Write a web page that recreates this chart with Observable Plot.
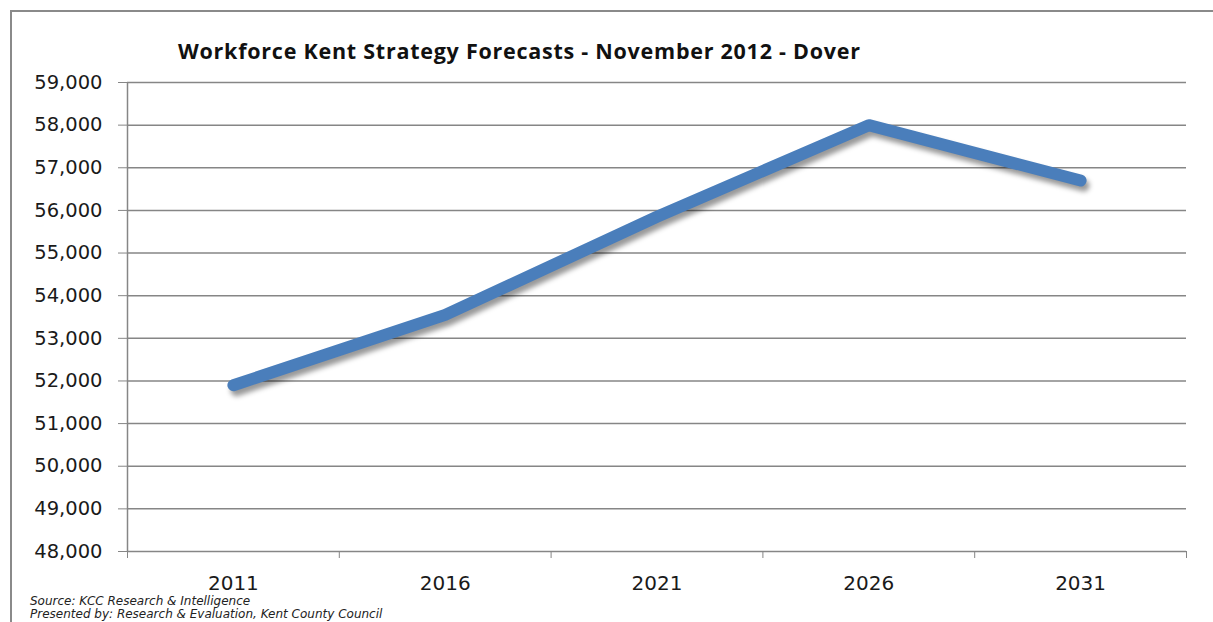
<!DOCTYPE html>
<html>
<head>
<meta charset="utf-8">
<script src="https://cdn.jsdelivr.net/npm/d3@7"></script>
<script src="https://cdn.jsdelivr.net/npm/@observablehq/plot@0.6"></script>
<style>
  html, body { margin: 0; padding: 0; background: #fff; overflow: hidden; }
  #wrap { position: relative; width: 1213px; height: 622px; overflow: hidden; }
  #frame { position: absolute; left: 10px; top: 10px; width: 1300px; height: 700px;
           border-left: 2px solid #8a8a8a; border-top: 2px solid #8a8a8a; box-sizing: border-box; }
  #title { position: absolute; left: 178px; top: 38px; font-family: "Open Sans", Lato, sans-serif;
           font-weight: bold; font-size: 21.5px; line-height: 26px; letter-spacing: 0.75px; color: #111; white-space: nowrap; }
  #chart { position: absolute; left: 0; top: 0; }
  .cap { position: absolute; left: 30px; font-family: "DejaVu Sans", sans-serif; font-style: italic;
         font-size: 12px; line-height: 13px; color: #222; white-space: nowrap; }
</style>
</head>
<body>
<div id="wrap">
  <div id="frame"></div>
  <div id="chart"></div>
  <div id="title">Workforce Kent Strategy Forecasts - November 2012 - Dover</div>
  <div class="cap" style="top:595px">Source: KCC Research &amp; Intelligence</div>
  <div class="cap" style="top:608px">Presented by: Research &amp; Evaluation, Kent County Council</div>
</div>
<script>
const years = ["2011", "2016", "2021", "2026", "2031"];
const workforce = [51900, 53550, 55850, 58000, 56700];
const yTicks = [48000, 49000, 50000, 51000, 52000, 53000, 54000, 55000, 56000, 57000, 58000, 59000];

const data = years.map((year, i) => ({ i, year, value: workforce[i] }));
const centers = years.map((_, i) => i);
const boundaries = [-0.5, ...years.map((_, i) => i + 0.5)];
const gridColor = "#868686";

const chart = Plot.plot({
  width: 1213,
  height: 622,
  marginLeft: 127,
  marginRight: 27,
  marginTop: 82,
  marginBottom: 71,
  x: { type: "linear", domain: [-0.5, years.length - 0.5] },
  y: { domain: [48000, 59000] },
  style: { fontFamily: "DejaVu Sans, sans-serif", fontSize: "19.5px", color: "#1a1a1a", background: "transparent" },
  marks: [
    Plot.gridY(yTicks, { stroke: gridColor, strokeOpacity: 1, strokeWidth: 1.5 }),
    Plot.ruleX([-0.5], { stroke: gridColor, strokeWidth: 1.5 }),
    Plot.axisY(yTicks, { tickSize: 9, tickPadding: 16, tickFormat: d3.format(","), stroke: gridColor, strokeOpacity: 1, label: null }),
    Plot.axisX(boundaries, { tickSize: 7, tickFormat: () => "", stroke: gridColor, strokeOpacity: 1, label: null }),
    Plot.axisX(centers, { tickSize: 0, tickPadding: 24, tickFormat: i => years[i], fontSize: 20, label: null }),
    Plot.line(data, { x: "i", y: "value", stroke: "#000", strokeOpacity: 0.4, strokeWidth: 12, dx: 3, dy: 5, strokeLinecap: "round", strokeLinejoin: "round" }),
    Plot.line(data, { x: "i", y: "value", stroke: "#4a7ebb", strokeWidth: 12, strokeLinecap: "round", strokeLinejoin: "round" })
  ]
});
document.getElementById("chart").appendChild(chart);
const lines = chart.querySelectorAll('g[aria-label="line"]');
if (lines.length) lines[0].style.filter = "blur(2.5px)";
</script>
</body>
</html>
